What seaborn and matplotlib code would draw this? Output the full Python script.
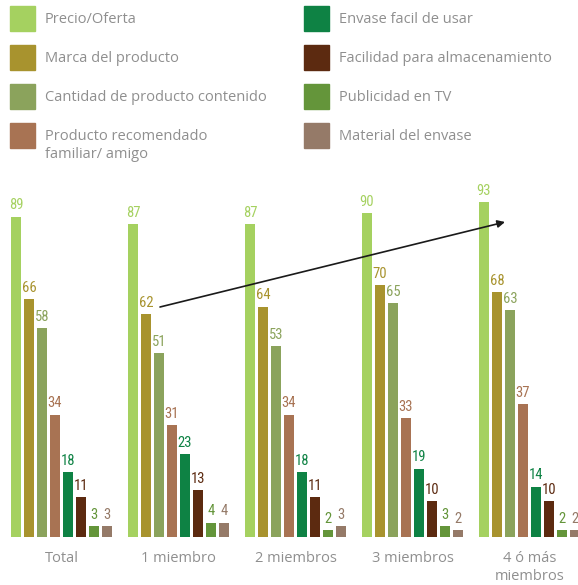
import matplotlib
matplotlib.use("Agg")
import matplotlib.pyplot as plt
from matplotlib import font_manager
from matplotlib.patches import Rectangle
import seaborn as sns
import pandas as pd

# Household-size groups and purchase drivers
groups = ["Total", "1 miembro", "2 miembros", "3 miembros", "4 ó más\nmiembros"]
factors = [
    "Precio/Oferta",
    "Marca del producto",
    "Cantidad de producto contenido",
    "Producto recomendado\nfamiliar/ amigo",
    "Envase facil de usar",
    "Facilidad para almacenamiento",
    "Publicidad en TV",
    "Material del envase",
]
colors = ["#A5D160", "#A8932E", "#8BA35C", "#A87353",
          "#0E8244", "#5C2A10", "#64953A", "#957A68"]

precio = [89, 87, 87, 90, 93]
marca = [66, 62, 64, 70, 68]
cantidad = [58, 51, 53, 65, 63]
recomendado = [34, 31, 34, 33, 37]
envase_facil = [18, 23, 18, 19, 14]
almacenamiento = [11, 13, 11, 10, 10]
publicidad = [3, 4, 2, 3, 2]
material = [3, 4, 3, 2, 2]

series = [precio, marca, cantidad, recomendado,
          envase_facil, almacenamiento, publicidad, material]

rows = []
for factor, vals in zip(factors, series):
    for g, v in zip(groups, vals):
        rows.append({"grupo": g, "factor": factor, "valor": v})
df = pd.DataFrame(rows)

sns.set_theme(style="white")
plt.rcParams["font.family"] = ["Open Sans", "DejaVu Sans"]

# Pick a narrow face for the value labels if one is installed
installed = {f.name for f in font_manager.fontManager.ttflist}
narrow = None
for cand in ["Liberation Sans Narrow", "DejaVu Sans Condensed", "Roboto Condensed",
             "Open Sans Condensed", "Noto Sans Condensed"]:
    if cand in installed:
        narrow = cand
        break
num_kw = dict(family=[narrow, "DejaVu Sans"], fontsize=10.5) if narrow else \
    dict(family=["Lato", "DejaVu Sans"], fontsize=10)

W, H = 578, 585
fig = plt.figure(figsize=(W / 100, H / 100), dpi=100)
ax = fig.add_axes([0, (H - 537) / H, 1, 367 / H])

sns.barplot(data=df, x="grupo", y="valor", hue="factor", order=groups,
            hue_order=factors, palette=colors, width=0.89, gap=0.2,
            saturation=1, legend=False, ax=ax, errorbar=None, linewidth=0)

ax.set_xlim(-61.5 / 117, (W - 61.5) / 117)
ax.set_ylim(0, 367 / 3.6)

for cont, c in zip(ax.containers, colors):
    ax.bar_label(cont, padding=3, color=c, **num_kw)

for s in ax.spines.values():
    s.set_visible(False)
ax.set_yticks([])
ax.set_xlabel("")
ax.set_ylabel("")
ax.tick_params(axis="x", length=0, pad=10, labelsize=10.5, labelcolor="#8f8f8f")
for t in ax.get_xticklabels():
    t.set_linespacing(1.25)

# Legend: two columns of colour squares with labels
legend_x = [10, 304]
text_x = [45, 339]
row_y = [18, 57, 96, 135]
for i, (label, c) in enumerate(zip(factors, colors)):
    col, row = divmod(i, 4)
    x0, yc = legend_x[col], row_y[row]
    fig.patches.append(Rectangle((x0 / W, 1 - (yc + 12.5) / H), 25 / W, 25 / H,
                                 transform=fig.transFigure, color=c))
    fig.text(text_x[col] / W, 1 - (yc - 6) / H, label, ha="left", va="top",
             fontsize=10.5, color="#8f8f8f", linespacing=1.3)

# Trend arrow
ax.annotate("", xy=(505 / W, 1 - 222 / H), xytext=(160 / W, 1 - 307 / H),
            xycoords="figure fraction", textcoords="figure fraction",
            arrowprops=dict(arrowstyle="-|>", color="#1a1a1a", lw=1.2,
                            mutation_scale=11, shrinkA=0, shrinkB=0))

fig.savefig("out.png", dpi=100)
